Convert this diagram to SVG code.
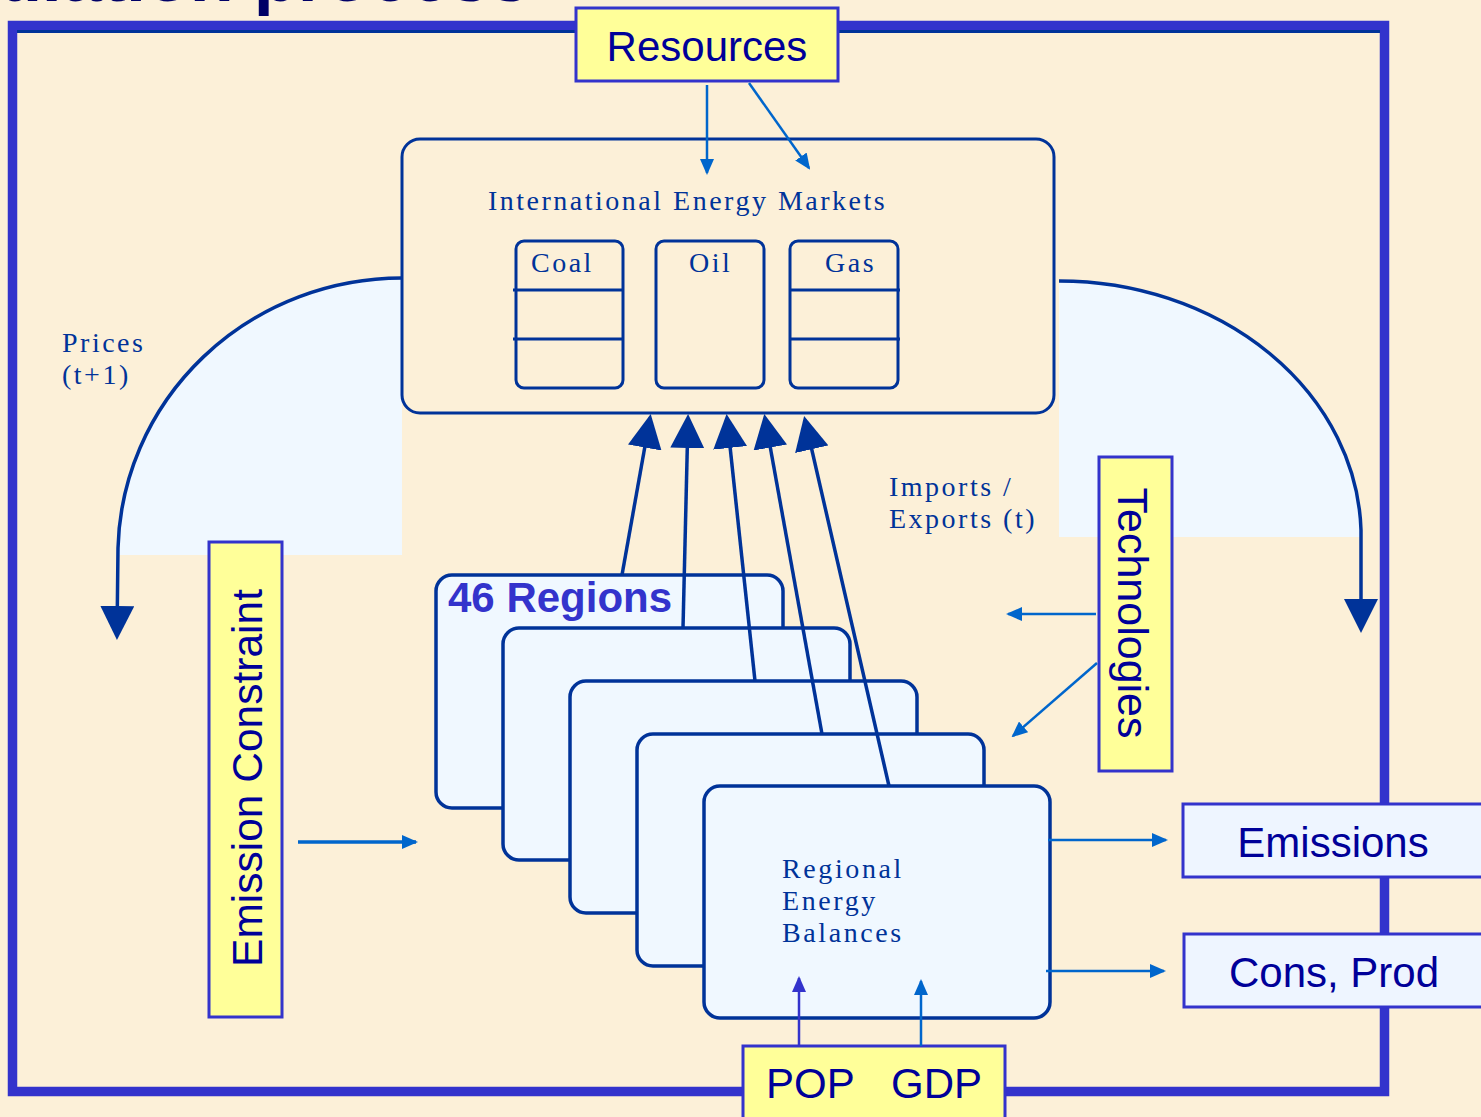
<svg xmlns="http://www.w3.org/2000/svg" width="1481" height="1117" viewBox="0 0 1481 1117">
<defs>
<style>
.serif{font-family:"Liberation Serif","Times New Roman",serif;fill:#003399;font-size:28px;letter-spacing:2.5px}
.sans{font-family:"Liberation Sans",Arial,sans-serif;fill:#000099;font-size:42px}
.ybox{fill:#ffff99;stroke:#3333cc;stroke-width:3}
.lbox{fill:#eef5ff;stroke:#3333cc;stroke-width:3}
.reg{fill:#f0f8ff;stroke:#003399;stroke-width:3.5}
.mk{fill:none;stroke:#003399;stroke-width:3}
.thin{stroke:#0066cc;stroke-width:2.5;fill:none}
.thick{stroke:#003399;stroke-width:3.5;fill:none}
</style>
<marker id="ah" viewBox="0 0 16 14" refX="14" refY="7" markerWidth="16" markerHeight="14" markerUnits="userSpaceOnUse" orient="auto"><path d="M0,0 L16,7 L0,14 Z" fill="#0066cc"/></marker>
<marker id="ahp" viewBox="0 0 16 14" refX="14" refY="7" markerWidth="16" markerHeight="14" markerUnits="userSpaceOnUse" orient="auto"><path d="M0,0 L16,7 L0,14 Z" fill="#3333cc"/></marker>
<marker id="big" viewBox="0 0 34 34" refX="30" refY="17" markerWidth="34" markerHeight="34" markerUnits="userSpaceOnUse" orient="auto"><path d="M0,0 L34,17 L0,34 Z" fill="#003399"/></marker>
</defs>
<rect x="0" y="0" width="1481" height="1117" fill="#fcf0d8"/>
<text x="530" y="1" font-family="Liberation Sans,Arial,sans-serif" font-weight="bold" font-size="72" fill="#000066" text-anchor="end">ulation process</text>
<g id="frame">
<rect x="12.5" y="25.5" width="1372" height="1066" fill="none" stroke="#3333cc" stroke-width="9.5"/>
<line x1="17" y1="31.5" x2="1380" y2="31.5" stroke="#003399" stroke-width="3"/>
</g>
<g id="price-loop">
<path d="M402,278 A284,277 0 0 0 118,555 L402,555 Z" fill="#f0f8ff"/>
<path d="M402,278 A284,277 0 0 0 118,548 L117,636" class="thick" marker-end="url(#big)"/>
<path d="M1059,281 A302,256 0 0 1 1361,537 L1059,537 Z" fill="#f0f8ff"/>
<path d="M1059,281 A302,256 0 0 1 1361,530 L1361,629" class="thick" marker-end="url(#big)"/>
</g>
<g id="markets">
<rect x="402" y="139" width="652" height="274" rx="18" class="mk"/>
<text x="488" y="210" class="serif">International Energy Markets</text>
</g>
<g id="coal">
<rect x="516" y="241" width="107" height="147" rx="8" class="mk"/>
<line x1="513" y1="290" x2="623" y2="290" class="mk"/>
<line x1="513" y1="339" x2="623" y2="339" class="mk"/>
<text x="531" y="272" class="serif">Coal</text>
</g>
<g id="oil">
<rect x="656" y="241" width="108" height="147" rx="8" class="mk"/>
<text x="689" y="272" class="serif">Oil</text>
</g>
<g id="gas">
<rect x="790" y="241" width="108" height="147" rx="8" class="mk"/>
<line x1="790" y1="290" x2="900" y2="290" class="mk"/>
<line x1="790" y1="339" x2="900" y2="339" class="mk"/>
<text x="825" y="272" class="serif">Gas</text>
</g>
<g id="resources">
<rect x="576" y="8" width="262" height="73" class="ybox"/>
<text x="707" y="61" class="sans" text-anchor="middle">Resources</text>
</g>
<g id="prices-label">
<text x="62" y="352" class="serif">Prices</text>
<text x="62" y="384" class="serif">(t+1)</text>
</g>
<g id="imports-label">
<text x="889" y="496" class="serif">Imports /</text>
<text x="889" y="528" class="serif">Exports (t)</text>
</g>
<g id="regions">
<rect x="436" y="575" width="347" height="233" rx="16" class="reg"/>
<text x="448" y="612" font-family="Liberation Sans,Arial,sans-serif" font-weight="bold" font-size="42" fill="#3333cc">46 Regions</text>
<rect x="503" y="628" width="347" height="232" rx="16" class="reg"/>
<rect x="570" y="681" width="347" height="232" rx="16" class="reg"/>
<rect x="637" y="734" width="347" height="232" rx="16" class="reg"/>
<rect x="704" y="786" width="346" height="232" rx="16" class="reg"/>
<text x="782" y="878" class="serif" style="letter-spacing:2.6px">Regional</text>
<text x="782" y="910" class="serif" style="letter-spacing:2.6px">Energy</text>
<text x="782" y="942" class="serif" style="letter-spacing:2.6px">Balances</text>
</g>
<g id="technologies">
<rect x="1099" y="457" width="73" height="314" class="ybox"/>
<text transform="translate(1118,613) rotate(90)" class="sans" style="font-size:43px" text-anchor="middle">Technologies</text>
</g>
<g id="emission-constraint">
<rect x="209" y="542" width="73" height="475" class="ybox"/>
<text transform="translate(262,778) rotate(-90)" class="sans" style="font-size:42.5px" text-anchor="middle">Emission Constraint</text>
</g>
<g id="emissions">
<rect x="1183" y="804" width="310" height="73" class="lbox"/>
<text x="1333" y="857" class="sans" text-anchor="middle">Emissions</text>
</g>
<g id="consprod">
<rect x="1184" y="934" width="310" height="73" class="lbox"/>
<text x="1334" y="987" class="sans" text-anchor="middle">Cons, Prod</text>
</g>
<g id="popgdp">
<rect x="743" y="1046" width="262" height="80" class="ybox"/>
<text x="766" y="1098" class="sans">POP</text>
<text x="891" y="1098" class="sans">GDP</text>
</g>
<g id="connectors">
<line x1="707" y1="85" x2="707" y2="173" class="thin" marker-end="url(#ah)"/>
<line x1="749" y1="83" x2="809" y2="168" class="thin" marker-end="url(#ah)"/>
<line x1="622" y1="575" x2="650" y2="418" class="thick" marker-end="url(#big)"/>
<line x1="683" y1="628" x2="688" y2="418" class="thick" marker-end="url(#big)"/>
<line x1="755" y1="681" x2="727" y2="418" class="thick" marker-end="url(#big)"/>
<line x1="822" y1="734" x2="765" y2="418" class="thick" marker-end="url(#big)"/>
<line x1="889" y1="786" x2="805" y2="420" class="thick" marker-end="url(#big)"/>
<line x1="1096" y1="614" x2="1008" y2="614" class="thin" marker-end="url(#ah)"/>
<line x1="1097" y1="663" x2="1013" y2="736" class="thin" marker-end="url(#ah)"/>
<line x1="298" y1="842" x2="416" y2="842" class="thin" style="stroke-width:3.5" marker-end="url(#ah)"/>
<line x1="1048" y1="840" x2="1166" y2="840" class="thin" marker-end="url(#ah)"/>
<line x1="1046" y1="971" x2="1164" y2="971" class="thin" marker-end="url(#ah)"/>
<line x1="799" y1="1046" x2="799" y2="978" stroke="#3333cc" stroke-width="2.5" marker-end="url(#ahp)"/>
<line x1="921" y1="1046" x2="921" y2="981" class="thin" marker-end="url(#ah)"/>
</g>
</svg>
